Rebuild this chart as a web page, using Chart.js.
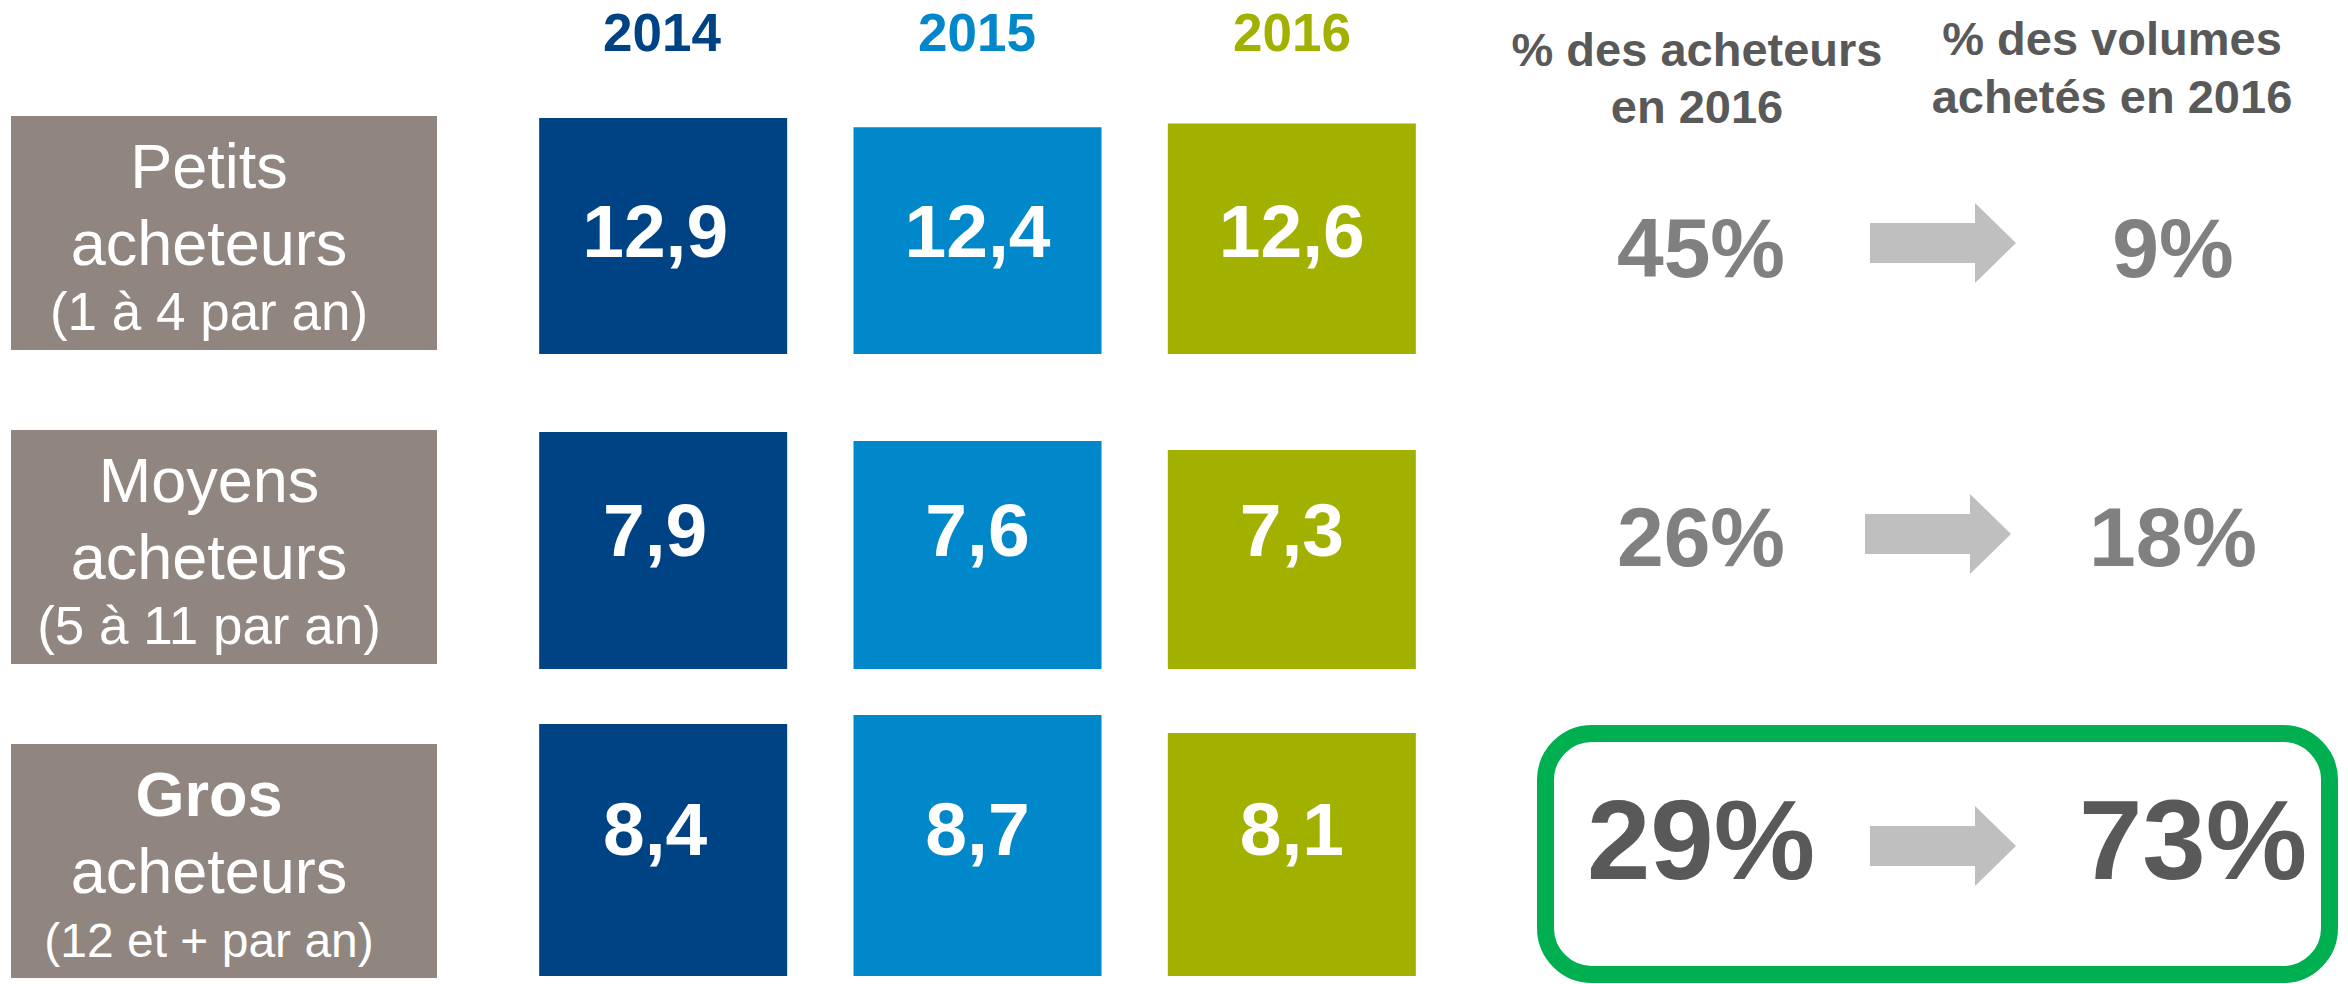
<!DOCTYPE html>
<html>
<head>
<meta charset="utf-8">
<script src="https://cdn.jsdelivr.net/npm/chart.js@4/dist/chart.umd.min.js"></script>
<style>
  body { margin: 0; background: #fff; }
  #page { position: relative; width: 2348px; height: 984px; overflow: hidden; font-family: "Liberation Sans", Arial, sans-serif; }
  .t { position: absolute; width: 1000px; text-align: center; line-height: 1; white-space: nowrap; }
  .box { position: absolute; left: 11px; width: 426px; height: 234px; background: #918580; }
  .arrow { position: absolute; width: 146px; height: 80px; background: #bfbfbf;
    clip-path: polygon(0 20px, 105px 20px, 105px 0, 146px 40px, 105px 80px, 105px 60px, 0 60px); }
  canvas { position: absolute; }
</style>
</head>
<body>
<div id="page"></div>
<script>
// données
const annees = ["2014", "2015", "2016"];
const couleurs = ["#004385", "#0088ca", "#a2b000"];
const segments = [
  ["Petits", "acheteurs", "(1 à 4 par an)"],
  ["Moyens", "acheteurs", "(5 à 11 par an)"],
  ["Gros", "acheteurs", "(12 et + par an)"]
];
const petits = [12.9, 12.4, 12.6];
const moyens = [7.9, 7.6, 7.3];
const gros = [8.4, 8.7, 8.1];
const pctAcheteurs = [45, 26, 29];
const pctVolumes = [9, 18, 73];

const page = document.getElementById("page");

// texte positionné par sa ligne de base
function txt(s, cx, base, size, color, bold) {
  const d = document.createElement("div");
  d.className = "t";
  d.textContent = s;
  d.style.left = (cx - 500) + "px";
  d.style.top = (base - 0.8465 * size) + "px";
  d.style.fontSize = size + "px";
  d.style.color = color;
  d.style.fontWeight = bold ? "bold" : "normal";
  page.appendChild(d);
}

// en-têtes
const centresX = [662, 977, 1292];
annees.forEach((a, i) => txt(a, centresX[i], 51, 53, couleurs[i], true));
txt("% des acheteurs", 1697, 66, 47, "#595959", true);
txt("en 2016", 1697, 123, 47, "#595959", true);
txt("% des volumes", 2112, 55, 47, "#595959", true);
txt("achetés en 2016", 2112, 113, 47, "#595959", true);

// cadre vert
const cadre = document.createElement("div");
cadre.style.cssText = "position:absolute;left:1537px;top:725px;width:801px;height:258px;box-sizing:border-box;border:17px solid #00b050;border-radius:55px;";
page.appendChild(cadre);

// lignes
const lignes = [
  { data: petits, boxTop: 116, top: 98, height: 256, max: 14, labelBase: 257, subSize: 53, pctBase: 277, pctSize: 84, pctColor: "#808080", arrowTop: 203, arrowLeft: 1870 },
  { data: moyens, boxTop: 430, top: 429, height: 240, max: 8, labelBase: 556, subSize: 53, pctBase: 566, pctSize: 84, pctColor: "#808080", arrowTop: 494, arrowLeft: 1865 },
  { data: gros, boxTop: 744, top: 706, height: 270, max: 9, labelBase: 855, subSize: 48, pctBase: 880, pctSize: 114, pctColor: "#595959", arrowTop: 806, arrowLeft: 1870 }
];

const valeurs = {
  id: "valeurs",
  afterDatasetsDraw(chart, args, opts) {
    const ctx = chart.ctx;
    const meta = chart.getDatasetMeta(0);
    ctx.save();
    ctx.fillStyle = "#fff";
    ctx.font = "bold 75px 'Liberation Sans', Arial, sans-serif";
    ctx.textAlign = "center";
    ctx.textBaseline = "alphabetic";
    meta.data.forEach((bar, i) => {
      const v = chart.data.datasets[0].data[i];
      // la première colonne est légèrement décalée à gauche dans l'original
      const dx = i === 0 ? -8 : 0;
      ctx.fillText(v.toFixed(1).replace(".", ","), bar.x + dx, opts.base);
    });
    ctx.restore();
  }
};

lignes.forEach((l, r) => {
  // étiquette grise
  const b = document.createElement("div");
  b.className = "box";
  b.style.top = l.boxTop + "px";
  page.appendChild(b);
  const seg = segments[r];
  txt(seg[0], 209, l.boxTop + 72, 63, "#fff", r === 2);
  txt(seg[1], 209, l.boxTop + 149, 63, "#fff", false);
  txt(seg[2], 209, l.boxTop + 214, l.subSize, "#fff", false);

  // barres
  const cv = document.createElement("canvas");
  cv.width = 943;
  cv.height = l.height;
  cv.style.left = "506px";
  cv.style.top = l.top + "px";
  page.appendChild(cv);
  new Chart(cv.getContext("2d"), {
    type: "bar",
    data: {
      labels: annees,
      datasets: [{ data: l.data, backgroundColor: couleurs, borderWidth: 0, barPercentage: 0.789, categoryPercentage: 1 }]
    },
    options: {
      responsive: false,
      animation: false,
      layout: { padding: 0 },
      plugins: { legend: { display: false }, tooltip: { enabled: false }, valeurs: { base: l.labelBase - l.top } },
      scales: {
        x: { display: false },
        y: { display: false, min: 0, max: l.max }
      }
    },
    plugins: [valeurs]
  });

  // pourcentages et flèche
  txt(pctAcheteurs[r] + "%", 1701, l.pctBase, l.pctSize, l.pctColor, true);
  txt(pctVolumes[r] + "%", r === 2 ? 2193 : 2173, l.pctBase, l.pctSize, l.pctColor, true);
  const f = document.createElement("div");
  f.className = "arrow";
  f.style.left = l.arrowLeft + "px";
  f.style.top = l.arrowTop + "px";
  page.appendChild(f);
});
</script>
</body>
</html>
